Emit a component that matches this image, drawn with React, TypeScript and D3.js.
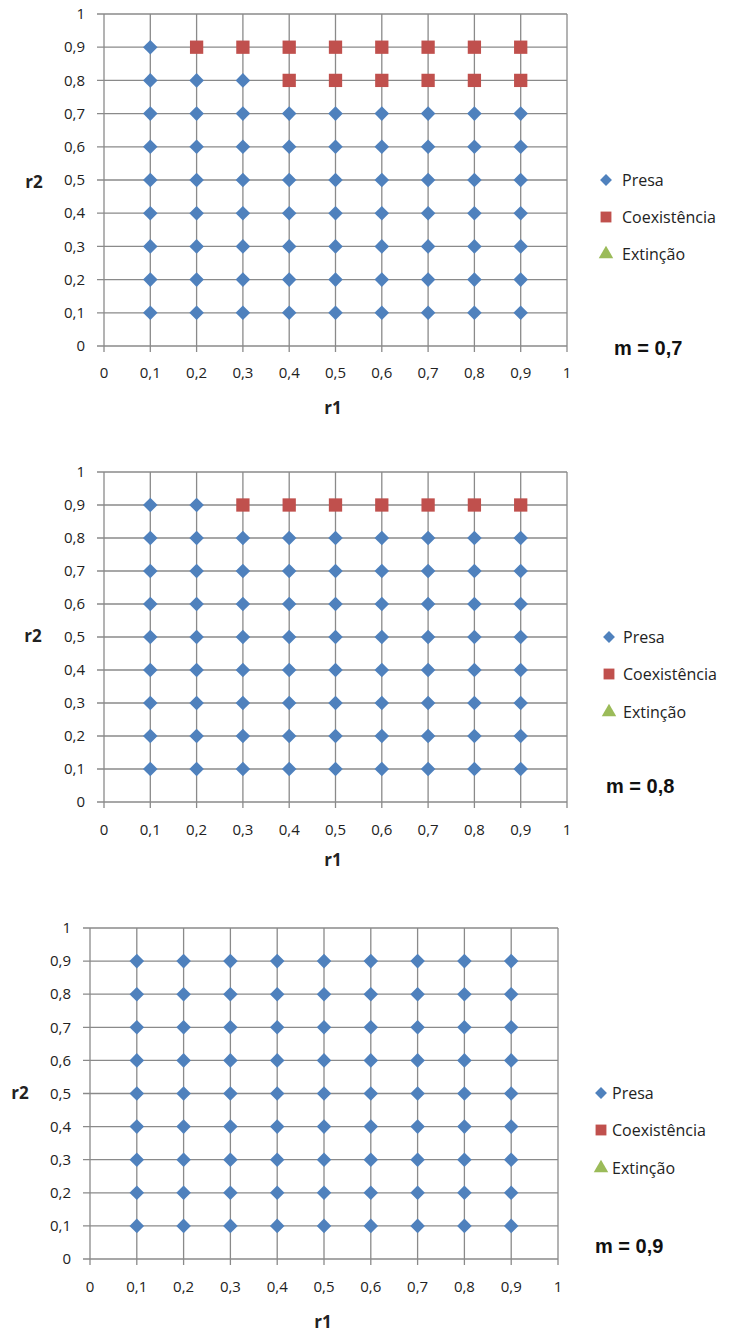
import React from "react";
import * as d3 from "d3";

// Axis tick values (both axes share the 0..1 range, step 0.1)
const tickValues = [0, 0.1, 0.2, 0.3, 0.4, 0.5, 0.6, 0.7, 0.8, 0.9, 1];
const r1Values = [0.1, 0.2, 0.3, 0.4, 0.5, 0.6, 0.7, 0.8, 0.9];
// rows listed from r2 = 0.9 down to r2 = 0.1
const r2Values = [0.9, 0.8, 0.7, 0.6, 0.5, 0.4, 0.3, 0.2, 0.1];

// Outcome per (r1, r2) cell: P = Presa, C = Coexistência, E = Extinção
const outcomeM07 = [
  "PCCCCCCCC",
  "PPPCCCCCC",
  "PPPPPPPPP",
  "PPPPPPPPP",
  "PPPPPPPPP",
  "PPPPPPPPP",
  "PPPPPPPPP",
  "PPPPPPPPP",
  "PPPPPPPPP",
];
const outcomeM08 = [
  "PPCCCCCCC",
  "PPPPPPPPP",
  "PPPPPPPPP",
  "PPPPPPPPP",
  "PPPPPPPPP",
  "PPPPPPPPP",
  "PPPPPPPPP",
  "PPPPPPPPP",
  "PPPPPPPPP",
];
const outcomeM09 = [
  "PPPPPPPPP",
  "PPPPPPPPP",
  "PPPPPPPPP",
  "PPPPPPPPP",
  "PPPPPPPPP",
  "PPPPPPPPP",
  "PPPPPPPPP",
  "PPPPPPPPP",
  "PPPPPPPPP",
];

const seriesNames = ["Presa", "Coexistência", "Extinção"];
const seriesCodes = ["P", "C", "E"];
const mLabels = ["m = 0,7", "m = 0,8", "m = 0,9"];

const COLORS: Record<string, string> = { P: "#4F81BD", C: "#C0504D", E: "#9BBB59" };
const GRID = "#8a8a8a";
const FONT = "'Open Sans', 'Liberation Sans', sans-serif";

type Layout = {
  x0: number; x1: number; yTop: number; yBottom: number;
  legX: number; legTextX: number; legY: number[];
  mX: number; mY: number;
  r2X: number; r2Y: number;
  r1X: number; r1Y: number;
  tickY: number;
};

const layouts: Layout[] = [
  { x0: 104, x1: 567, yTop: 14, yBottom: 346, legX: 606, legTextX: 622, legY: [180, 217, 254], mX: 614, mY: 348, r2X: 34, r2Y: 182, r1X: 333, r1Y: 408, tickY: 373 },
  { x0: 104, x1: 567, yTop: 472, yBottom: 802, legX: 609, legTextX: 623, legY: [637, 674, 712], mX: 606, mY: 786, r2X: 33, r2Y: 636, r1X: 333, r1Y: 860, tickY: 830 },
  { x0: 90, x1: 558, yTop: 928, yBottom: 1259, legX: 601, legTextX: 612, legY: [1093, 1130, 1168], mX: 595, mY: 1246, r2X: 20, r2Y: 1093, r1X: 323, r1Y: 1322, tickY: 1287 },
];

const outcomes = [outcomeM07, outcomeM08, outcomeM09];

const fmt = (v: number) => (v === 0 || v === 1 ? String(v) : d3.format(".1f")(v).replace(".", ","));

function Marker({ code, x, y, size }: { code: string; x: number; y: number; size: number }) {
  const sym = code === "P" ? d3.symbolDiamond2 : code === "C" ? d3.symbolSquare2 : d3.symbolTriangle2;
  const path = d3.symbol(sym, size)();
  return <path d={path || ""} transform={`translate(${x},${y})`} fill={COLORS[code]} />;
}

function Panel({ lay, grid, mLabel }: { lay: Layout; grid: string[]; mLabel: string }) {
  const x = d3.scaleLinear().domain([0, 1]).range([lay.x0, lay.x1]);
  const y = d3.scaleLinear().domain([0, 1]).range([lay.yBottom, lay.yTop]);
  const points: { r1: number; r2: number; code: string }[] = [];
  r2Values.forEach((r2, i) => {
    r1Values.forEach((r1, j) => {
      points.push({ r1, r2, code: grid[i][j] });
    });
  });
  return (
    <g>
      {/* horizontal gridlines with left ticks */}
      {tickValues.map((t) => (
        <line key={`h${t}`} x1={lay.x0 - 7} x2={lay.x1} y1={y(t)} y2={y(t)} stroke={GRID} strokeWidth={1.3} />
      ))}
      {/* vertical gridlines with bottom ticks */}
      {tickValues.map((t) => (
        <line key={`v${t}`} x1={x(t)} x2={x(t)} y1={lay.yTop} y2={lay.yBottom + 6} stroke={GRID} strokeWidth={1.3} />
      ))}
      {tickValues.map((t) => (
        <text key={`yl${t}`} x={lay.x0 - 19} y={y(t)} dy="0.35em" textAnchor="end" fontFamily={FONT} fontSize={15} fill="#222">
          {fmt(t)}
        </text>
      ))}
      {tickValues.map((t) => (
        <text key={`xl${t}`} x={x(t)} y={lay.tickY} dy="0.35em" textAnchor="middle" fontFamily={FONT} fontSize={15} fill="#222">
          {fmt(t)}
        </text>
      ))}
      {points.map((p, i) => (
        <Marker key={i} code={p.code} x={x(p.r1)} y={y(p.r2)} size={p.code === "P" ? 135 : 225} />
      ))}
      <text x={lay.r2X} y={lay.r2Y} dy="0.35em" textAnchor="middle" fontFamily={FONT} fontWeight="bold" fontSize={17} fill="#222">r2</text>
      <text x={lay.r1X} y={lay.r1Y} dy="0.35em" textAnchor="middle" fontFamily={FONT} fontWeight="bold" fontSize={17} fill="#222">r1</text>
      {seriesNames.map((name, i) => (
        <g key={name}>
          <Marker code={seriesCodes[i]} x={lay.legX} y={lay.legY[i]} size={seriesCodes[i] === "P" ? 90 : 150} />
          <text x={lay.legTextX} y={lay.legY[i]} dy="0.35em" fontFamily={FONT} fontSize={16} fill="#222">{name}</text>
        </g>
      ))}
      <text x={lay.mX} y={lay.mY} dy="0.35em" fontFamily="'Liberation Sans', sans-serif" fontWeight="bold" fontSize={20} fill="#111">{mLabel}</text>
    </g>
  );
}

export default function App() {
  return (
    <svg width={734} height={1332} style={{ position: "absolute", left: 0, top: 0, background: "#fff" }}>
      <rect width={734} height={1332} fill="#fff" />
      {layouts.map((lay, i) => (
        <Panel key={i} lay={lay} grid={outcomes[i]} mLabel={mLabels[i]} />
      ))}
    </svg>
  );
}
